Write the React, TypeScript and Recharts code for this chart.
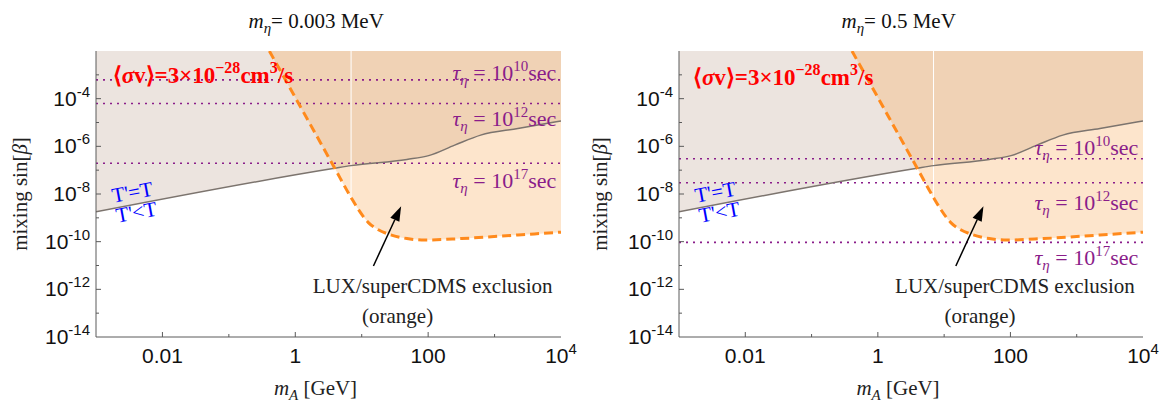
import React from "react";
import {
  ComposedChart,
  Area,
  Line,
  XAxis,
  YAxis,
  ReferenceLine,
  ReferenceDot,
  Label,
} from "recharts";

// m_A [GeV] / mixing sin(beta)

// T'=T boundary (gray curve)
const boundaryMass = [0.001, 3.89, 6.92, 47.9, 102, 251, 617, 2239, 10000];
const boundaryMixing = [1.78e-9, 1.2e-7, 1.55e-7, 2.82e-7, 4.07e-7, 1.12e-6, 2.95e-6, 5.62e-6, 1.17e-5];

// LUX/superCDMS exclusion edge (orange dashed)
const luxMass = [0.407, 3.89, 6.92, 8.91, 12.6, 17.8, 25.1, 47.9, 89.1, 316, 2239, 10000];
const luxMixing = [1e-2, 1.26e-7, 7.08e-9, 2.24e-9, 6.31e-10, 3.16e-10, 2.09e-10, 1.35e-10, 1.17e-10, 1.35e-10, 1.91e-10, 2.51e-10];

const Y_TOP = 1e-2;
const xTicks = [1e-3, 1e-2, 1e-1, 1, 10, 100, 1000, 1e4];
const yTicks = [1e-14, 1e-13, 1e-12, 1e-11, 1e-10, 1e-9, 1e-8, 1e-7, 1e-6, 1e-5, 1e-4, 1e-3, 1e-2];

// lifetime lines tau_eta = 10^N sec
const tauExponents = [10, 12, 17];
const tauMixingLeft = [6.17e-4, 6.31e-5, 1.95e-7];
const tauMixingRight = [3.02e-7, 2.95e-8, 9.33e-11];

const panelMasses = ["0.003", "0.5"];

const boundaryData = boundaryMass.map((m, i) => ({ m, lo: boundaryMixing[i], hi: Y_TOP }));
const luxData = luxMass.map((m, i) => ({ m, lo: luxMixing[i], hi: Y_TOP }));

const SERIF = '"Liberation Serif", "Times New Roman", serif';
const SANS = '"Liberation Sans", Arial, sans-serif';
const AXIS = "#5a5a5a";
const PURPLE = "#8a1d8a";

const expOf = (v: number) => Math.round(Math.log10(v));

const BottomTick = (props: any) => {
  const { x, y, payload } = props;
  const e = expOf(payload.value);
  const major = e % 2 === 0;
  let label: React.ReactNode = null;
  if (e === -2) label = "0.01";
  if (e === 0) label = "1";
  if (e === 2) label = "100";
  if (e === 4)
    label = (
      <>
        10<tspan dy={-9} fontSize={15}>4</tspan>
      </>
    );
  return (
    <g>
      {e > -3 && e < 4 && (
        <line x1={x} x2={x} y1={y} y2={y - (major ? 5 : 3)} stroke={AXIS} strokeWidth={1} />
      )}
      {major && label && (
        <text x={x} y={y + 26} textAnchor="middle" fontFamily={SANS} fontSize={21} fill="#111">
          {label}
        </text>
      )}
    </g>
  );
};

const TopTick = (props: any) => {
  const { x, y, payload } = props;
  const e = expOf(payload.value);
  if (e <= -3 || e >= 4) return <g />;
  return <line x1={x} x2={x} y1={y} y2={y + (e % 2 === 0 ? 5 : 3)} stroke={AXIS} />;
};

const LeftTick = (props: any) => {
  const { x, y, payload } = props;
  const e = expOf(payload.value);
  const major = e % 2 === 0;
  return (
    <g>
      {e > -14 && e < -2 && (
        <line x1={x} x2={x + (major ? 5 : 3)} y1={y} y2={y} stroke={AXIS} />
      )}
      {major && e <= -4 && (
        <text x={x - 6} y={y + 7} textAnchor="end" fontFamily={SANS} fontSize={21} fill="#111">
          10<tspan dy={-9} fontSize={15}>{"-" + String(-e)}</tspan>
        </text>
      )}
    </g>
  );
};

const RightTick = (props: any) => {
  const { x, y, payload } = props;
  const e = expOf(payload.value);
  if (e <= -14 || e >= -2) return <g />;
  return <line x1={x} x2={x - (e % 2 === 0 ? 5 : 3)} y1={y} y2={y} stroke={AXIS} />;
};

const textAt = (render: (cx: number, cy: number) => React.ReactNode) => (p: any) => (
  <g>{render(p.cx, p.cy)}</g>
);

const Arrow = (p: any) => {
  const { x1, y1, x2, y2 } = p;
  const a = Math.atan2(y2 - y1, x2 - x1);
  const len = 15;
  const hw = 5;
  const bx = x2 - len * Math.cos(a);
  const by = y2 - len * Math.sin(a);
  const nx = -Math.sin(a) * hw;
  const ny = Math.cos(a) * hw;
  return (
    <g>
      <line x1={x1} y1={y1} x2={bx} y2={by} stroke="#000" strokeWidth={1.5} />
      <polygon points={`${x2},${y2} ${bx + nx},${by + ny} ${bx - nx},${by - ny}`} fill="#000" />
    </g>
  );
};

type PanelProps = {
  width: number;
  yAxisWidth: number;
  rightMargin: number;
  mass: string;
  tauMixing: number[];
  tauLabelMixing: number[];
  sigmaLabel: { x: number; y: number };
};

const Panel = ({ width, yAxisWidth, rightMargin, mass, tauMixing, tauLabelMixing, sigmaLabel }: PanelProps) => (
  <ComposedChart
    width={width}
    height={403}
    margin={{ top: 51, right: rightMargin, bottom: 0, left: 0 }}
  >
    <XAxis
      dataKey="m"
      type="number"
      scale="log"
      domain={[1e-3, 1e4]}
      allowDataOverflow
      ticks={xTicks}
      interval={0}
      tickSize={0}
      tickMargin={0}
      tickLine={false}
      tick={<BottomTick />}
      height={66}
      stroke={AXIS}
    >
      <Label
        content={(p: any) => {
          const vb = p.viewBox;
          return (
            <text x={vb.x + vb.width / 2 - 13} y={395} textAnchor="middle" fontFamily={SERIF} fontSize={21} fill="#222">
              <tspan fontStyle="italic">m</tspan>
              <tspan fontStyle="italic" fontSize={15} dy={5}>A</tspan>
              <tspan dy={-5}> [GeV]</tspan>
            </text>
          );
        }}
      />
    </XAxis>
    <XAxis
      xAxisId="top"
      orientation="top"
      dataKey="m"
      type="number"
      scale="log"
      domain={[1e-3, 1e4]}
      allowDataOverflow
      ticks={xTicks}
      interval={0}
      tickSize={0}
      tickMargin={0}
      tickLine={false}
      tick={<TopTick />}
      height={0}
      stroke="#8a8a8a"
    />
    <YAxis
      type="number"
      scale="log"
      domain={[1e-14, 1e-2]}
      allowDataOverflow
      ticks={yTicks}
      interval={0}
      tickSize={0}
      tickMargin={0}
      tickLine={false}
      tick={<LeftTick />}
      width={yAxisWidth}
      stroke={AXIS}
    >
      <Label
        content={(p: any) => {
          const vb = p.viewBox;
          const cy = vb.y + vb.height / 2;
          const cx = vb.x + 27;
          return (
            <text x={cx} y={cy} transform={`rotate(-90, ${cx}, ${cy})`} textAnchor="middle" fontFamily={SERIF} fontSize={21} fill="#222">
              mixing sin[<tspan fontStyle="italic">β</tspan>]
            </text>
          );
        }}
      />
    </YAxis>
    <YAxis
      yAxisId="right"
      orientation="right"
      type="number"
      scale="log"
      domain={[1e-14, 1e-2]}
      allowDataOverflow
      ticks={yTicks}
      interval={0}
      tickSize={0}
      tickMargin={0}
      tickLine={false}
      tick={<RightTick />}
      width={0}
      stroke="#8a8a8a"
    />

    <Area
      data={boundaryData}
      dataKey={(d: any) => [d.lo, d.hi]}
      type="monotone"
      stroke="none"
      fill="#ece4df"
      fillOpacity={1}
      isAnimationActive={false}
      dot={false}
      activeDot={false}
    />
    <Area
      data={luxData}
      dataKey={(d: any) => [d.lo, d.hi]}
      type="monotone"
      stroke="none"
      fill="#f8a855"
      fillOpacity={0.3}
      isAnimationActive={false}
      dot={false}
      activeDot={false}
    />
    <ReferenceLine
      segment={[
        { x: luxMass[2], y: Y_TOP },
        { x: luxMass[2], y: luxMixing[2] },
      ]}
      stroke="#ffffff"
      strokeWidth={1}
    />

    {tauMixing.map((v, i) => (
      <ReferenceLine key={"t" + i} y={v} stroke={PURPLE} strokeWidth={1.6} strokeDasharray="2 5" />
    ))}

    <Line
      data={boundaryData}
      dataKey="lo"
      type="monotone"
      stroke="#7c746e"
      strokeWidth={1.5}
      dot={false}
      activeDot={false}
      isAnimationActive={false}
    />
    <Line
      data={luxData}
      dataKey="lo"
      type="monotone"
      stroke="#ff8a1c"
      strokeWidth={3}
      strokeDasharray="9 5"
      dot={false}
      activeDot={false}
      isAnimationActive={false}
    />

    {tauExponents.map((n, i) => (
      <ReferenceDot
        key={"tl" + i}
        x={8500}
        y={tauLabelMixing[i]}
        r={0}
        shape={textAt((cx, cy) => (
          <text x={cx} y={cy} textAnchor="end" fontFamily={SERIF} fontSize={22} fill={PURPLE}>
            <tspan fontStyle="italic">τ</tspan>
            <tspan fontStyle="italic" fontSize={15} dy={5}>η</tspan>
            <tspan dy={-5}>{" = 10"}</tspan>
            <tspan fontSize={15} dy={-9}>{String(n)}</tspan>
            <tspan dy={9}>sec</tspan>
          </text>
        ))}
      />
    ))}

    <ReferenceDot
      x={sigmaLabel.x}
      y={sigmaLabel.y}
      r={0}
      shape={textAt((cx, cy) => (
        <text x={cx} y={cy} fontFamily={SERIF} fontSize={23} fontWeight="bold" fill="#ff0000">
          ⟨<tspan fontStyle="italic">σ</tspan>v⟩=3×10
          <tspan fontSize={16} dy={-10}>−28</tspan>
          <tspan dy={10}>cm</tspan>
          <tspan fontSize={16} dy={-10}>3</tspan>
          <tspan dy={10}>/s</tspan>
        </text>
      ))}
    />

    <ReferenceDot
      x={1.82e-3}
      y={4.27e-9}
      r={0}
      shape={textAt((cx, cy) => (
        <text x={cx} y={cy} transform={`rotate(-10.4, ${cx}, ${cy})`} fontFamily={SERIF} fontSize={21} fill="#0000ff">
          T'=T
        </text>
      ))}
    />
    <ReferenceDot
      x={2.09e-3}
      y={6.17e-10}
      r={0}
      shape={textAt((cx, cy) => (
        <text x={cx} y={cy} transform={`rotate(-10.4, ${cx}, ${cy})`} fontFamily={SERIF} fontSize={21} fill="#0000ff">
          T'&lt;T
        </text>
      ))}
    />

    <ReferenceLine
      segment={[
        { x: 15, y: 9.55e-12 },
        { x: 39.2, y: 3.09e-9 },
      ]}
      shape={<Arrow />}
    />
    <ReferenceDot
      x={117}
      y={6.76e-13}
      r={0}
      shape={textAt((cx, cy) => (
        <text x={cx} y={cy} textAnchor="middle" fontFamily={SERIF} fontSize={21} fill="#222">
          LUX/superCDMS exclusion
        </text>
      ))}
    />
    <ReferenceDot
      x={34.7}
      y={3.89e-14}
      r={0}
      shape={textAt((cx, cy) => (
        <text x={cx} y={cy} textAnchor="middle" fontFamily={SERIF} fontSize={21} fill="#222">
          (orange)
        </text>
      ))}
    />

    {/* panel title, anchored at the top of the plot, shifted like the x label */}
    <ReferenceDot
      x={3.35}
      y={Y_TOP}
      r={0}
      ifOverflow="visible"
      shape={textAt((cx, cy) => (
        <text x={cx - 14} y={cy - 23} textAnchor="middle" fontFamily={SERIF} fontSize={21} fill="#111">
          <tspan fontStyle="italic">m</tspan>
          <tspan fontStyle="italic" fontSize={15} dy={5}>η</tspan>
          <tspan dy={-5}>{"= " + mass + " MeV"}</tspan>
        </text>
      ))}
    />
  </ComposedChart>
);

export default function App() {
  return (
    <div style={{ position: "absolute", left: 0, top: 0, width: 1163, height: 403, background: "#fff" }}>
      <div style={{ position: "absolute", left: 0, top: 0 }}>
        <Panel
          width={580}
          yAxisWidth={96}
          rightMargin={19}
          mass={panelMasses[0]}
          tauMixing={tauMixingLeft}
          tauLabelMixing={[5.9e-4, 7.08e-6, 1.82e-8]}
          sigmaLabel={{ x: 1.78e-3, y: 4.57e-4 }}
        />
      </div>
      <div style={{ position: "absolute", left: 580, top: 0 }}>
        <Panel
          width={583}
          yAxisWidth={99}
          rightMargin={20}
          mass={panelMasses[1]}
          tauMixing={tauMixingRight}
          tauLabelMixing={[4.37e-7, 2.14e-9, 1.07e-11]}
          sigmaLabel={{ x: 1.62e-3, y: 3.63e-4 }}
        />
      </div>
    </div>
  );
}
